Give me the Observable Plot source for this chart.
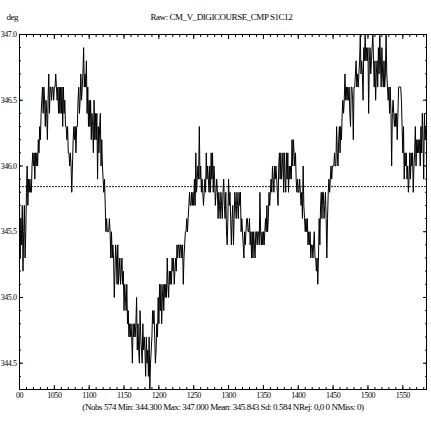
<!DOCTYPE html>
<html>
<head>
<meta charset="utf-8">
<script src="https://cdn.jsdelivr.net/npm/d3@7"></script>
<script src="https://cdn.jsdelivr.net/npm/@observablehq/plot@0.6"></script>
<style>
  html, body { margin: 0; padding: 0; background: #fff; }
  #chart svg text { letter-spacing: -0.45px; }
</style>
</head>
<body>
<div id="chart"></div>
<script>
const unitLabel = "deg";
const titleText = "Raw: CM_V_DIGICOURSE_CMP S1C12";
const captionText = "(Nobs 574 Min: 344.300 Max: 347.000 Mean: 345.843 Sd: 0.584 NRej: 0,0 0 NMiss: 0)";
const xStart = 1000;
const meanValue = 345.843;
const values = [
345.7,345.3,345.6,345.4,345.7,345.2,345.5,345.7,345.3,345.5,
345.8,346.0,345.7,345.9,345.8,345.9,345.8,345.8,346.0,346.1,
346.0,346.1,345.9,346.1,346.0,346.1,346.0,346.2,346.1,346.3,
346.2,346.4,346.5,346.6,346.4,346.6,346.5,346.3,346.5,346.4,
346.2,346.5,346.7,346.4,346.6,346.6,346.5,346.6,346.6,346.5,
346.6,346.6,346.7,346.6,346.5,346.6,346.4,346.6,346.4,346.6,
346.4,346.6,346.3,346.6,346.4,346.5,346.3,346.3,346.2,346.3,
346.1,346.1,346.0,346.1,346.0,345.8,346.0,346.2,346.3,346.2,
346.3,346.1,346.3,346.3,346.5,346.6,346.4,346.5,346.7,346.5,
346.6,346.7,346.9,346.6,346.7,346.6,346.8,346.4,346.6,346.3,
346.5,346.3,346.5,346.2,346.4,346.3,346.1,346.5,346.2,346.4,
346.2,346.4,345.9,346.3,346.1,346.3,346.4,346.0,346.2,346.0,
345.9,345.8,345.9,345.7,345.5,345.6,345.5,345.5,345.5,345.6,
345.5,345.3,345.5,345.3,345.4,345.3,345.0,345.2,345.4,345.3,
345.1,345.4,345.1,345.2,345.3,345.1,345.2,345.3,345.1,345.2,
344.9,345.1,345.0,344.9,345.1,344.8,344.9,344.7,344.8,344.7,
344.8,344.7,344.5,344.8,344.7,344.8,344.7,344.8,345.0,344.6,
344.8,344.6,344.5,344.9,344.7,344.6,344.5,344.8,344.6,344.7,
344.6,344.4,344.7,344.5,344.6,344.4,344.7,344.3,344.5,344.6,
344.7,344.9,344.8,344.9,344.7,344.5,344.6,344.8,344.7,345.0,
344.8,345.1,344.9,345.1,344.8,345.0,345.1,344.9,345.1,345.0,
345.1,345.0,345.3,345.1,345.0,345.2,345.1,345.2,345.1,345.3,
345.2,345.3,345.1,345.2,345.3,345.2,345.4,345.3,345.4,345.4,
345.3,345.4,345.4,345.3,345.4,345.1,345.3,345.4,345.5,345.5,
345.6,345.5,345.6,345.7,345.8,345.7,345.7,345.8,345.7,345.8,
345.7,345.9,345.7,346.1,345.8,345.9,346.0,345.9,346.3,345.9,
346.0,345.8,345.9,345.8,345.7,345.8,345.9,345.8,346.1,345.9,
346.0,345.9,345.8,346.0,345.8,346.1,345.9,346.1,345.8,346.0,
345.9,345.7,345.8,345.9,345.8,345.6,345.8,345.7,345.6,345.8,
345.7,345.6,345.8,345.9,345.7,345.6,345.8,345.5,345.4,345.6,
345.9,345.7,345.8,345.6,345.4,345.6,345.7,345.4,345.6,345.8,
345.7,345.6,345.8,345.7,345.6,345.8,345.7,345.8,345.5,345.6,
345.5,345.4,345.3,345.5,345.4,345.5,345.6,345.6,345.5,345.5,
345.6,345.4,345.5,345.3,345.5,345.3,345.5,345.4,345.3,345.5,
345.5,345.4,345.5,345.5,345.4,345.8,345.5,345.4,345.5,345.4,
345.5,345.4,345.5,345.6,345.5,345.7,345.5,345.6,345.8,345.7,
345.8,345.9,345.8,346.0,345.9,345.8,346.0,345.9,346.0,345.9,
345.8,345.7,346.0,346.1,345.9,346.1,345.9,346.0,346.1,345.8,
346.1,345.9,345.8,346.1,345.9,346.1,345.8,346.0,345.9,346.0,
345.9,346.2,346.0,346.2,346.1,346.0,346.1,345.9,345.8,345.9,
345.8,345.8,345.9,345.8,345.7,345.8,345.6,346.0,345.7,345.6,
345.5,345.6,345.5,345.6,345.4,345.5,345.4,345.5,345.3,345.4,
345.4,345.3,345.4,345.5,345.3,345.3,345.2,345.3,345.1,345.3,
345.6,345.4,345.7,345.8,345.6,345.8,345.8,345.6,345.7,345.8,
345.6,345.3,345.6,345.8,345.9,345.8,345.9,346.0,345.9,346.0,
346.0,346.0,346.1,346.0,346.0,346.3,346.1,346.0,346.2,346.3,
346.1,346.3,346.2,346.4,346.5,346.4,346.5,346.7,346.5,346.6,
346.5,346.6,346.5,346.6,346.4,346.3,346.6,346.6,346.5,346.2,
346.6,346.6,346.7,346.8,346.6,346.7,346.6,346.7,346.8,347.0,
346.7,346.8,346.7,346.5,346.9,346.8,347.0,346.8,346.9,346.8,
346.9,346.4,346.8,346.9,346.7,346.8,346.9,347.0,346.8,346.6,
346.8,346.5,346.7,346.8,346.6,346.9,346.7,347.0,346.8,346.6,
346.9,346.7,346.6,346.8,346.6,346.7,347.0,346.7,346.6,346.5,
346.6,346.4,346.6,346.4,346.0,346.4,346.5,346.4,346.3,346.4,
346.3,346.4,346.2,346.4,346.6,346.6,346.6,346.6,346.5,346.3,
346.1,346.3,345.9,346.1,346.0,346.1,345.9,346.0,345.8,345.9,
346.1,345.9,346.1,346.0,346.1,345.8,346.0,346.1,346.3,346.0,
346.2,346.1,346.2,346.1,346.2,346.0,346.3,346.1,346.4,346.2,
345.9,346.4,346.2,346.3
];
const xDomain = [1000, 1584];
const yDomain = [344.3, 347.0];
const xMajorTicks = [1000,1050,1100,1150,1200,1250,1300,1350,1400,1450,1500,1550];
const xTickLabels = ["00","1050","1100","1150","1200","1250","1300","1350","1400","1450","1500","1550"];
const xMinorTicks = d3.range(1000, 1585, 10);
const yMajorTicks = [344.5,345.0,345.5,346.0,346.5,347.0];
const yTickLabels = ["344.5","345.0","345.5","346.0","346.5","347.0"];
const yMinorTicks = d3.range(3444, 3471).map(d => d / 10);

const series = values.map((v, i) => ({x: xStart + i, y: v}));
const font = "'Liberation Serif', 'Times New Roman', serif";

const plot = Plot.plot({
  width: 431,
  height: 427,
  marginTop: 34,
  marginBottom: 38,
  marginLeft: 19,
  marginRight: 5,
  x: {domain: xDomain, label: null},
  y: {domain: yDomain, label: null},
  style: {fontFamily: font, fontSize: "8px", background: "#fff", color: "#000", overflow: "hidden"},
  marks: [
    Plot.ruleY([meanValue], {stroke: "#222", strokeWidth: 1, strokeDasharray: "2,1"}),
    Plot.lineY(series, {x: "x", y: "y", stroke: "#000", strokeWidth: 1, clip: true}),
    Plot.frame({stroke: "#000", strokeWidth: 1}),
    Plot.axisY(yMajorTicks, {anchor: "left", tickSize: 4, insetLeft: 4, tickPadding: 3,
      tickFormat: d => yTickLabels[yMajorTicks.indexOf(d)], fontSize: 8}),
    Plot.axisY(yMinorTicks, {anchor: "left", tickSize: 2, insetLeft: 2, fill: "none"}),
    Plot.axisY(yMajorTicks, {anchor: "right", tickSize: 4, insetRight: 4, fill: "none"}),
    Plot.axisY(yMinorTicks, {anchor: "right", tickSize: 2, insetRight: 2, fill: "none"}),
    Plot.axisX(xMajorTicks, {anchor: "bottom", tickSize: 4, insetBottom: 4, tickPadding: 3,
      tickFormat: d => xTickLabels[xMajorTicks.indexOf(d)], fontSize: 8}),
    Plot.axisX(xMinorTicks, {anchor: "bottom", tickSize: 2, insetBottom: 2, fill: "none"}),
    Plot.axisX(xMajorTicks, {anchor: "top", tickSize: 4, insetTop: 4, fill: "none"}),
    Plot.axisX(xMinorTicks, {anchor: "top", tickSize: 2, insetTop: 2, fill: "none"}),
    Plot.text([titleText], {text: d => d, frameAnchor: "top-left", textAnchor: "start", dx: 131, dy: -21, fontSize: 9, fill: "#000"}),
    Plot.text([unitLabel], {text: d => d, frameAnchor: "top-left", textAnchor: "start", dx: -13, dy: -21, fontSize: 9, fill: "#000"}),
    Plot.text([captionText], {text: d => d, frameAnchor: "bottom", dy: 20, fontSize: 9, fill: "#000"})
  ]
});
document.getElementById("chart").appendChild(plot);
</script>
</body>
</html>
